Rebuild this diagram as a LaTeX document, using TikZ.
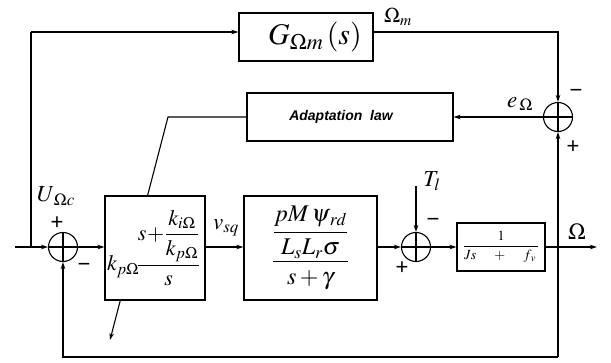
\documentclass[tikz,border=0pt]{standalone}
\usepackage{amsmath}
\usepackage{mathptmx}
\usepackage{fontspec}
\setmainfont{Liberation Serif}
\newfontfamily\lawfont{Liberation Sans}
\usetikzlibrary{arrows.meta}

\begin{document}
\begin{tikzpicture}[x=1pt,y=-1pt,line width=1.1pt,
  >={Stealth[length=7pt,width=4.5pt]},
  font=\fontsize{23}{25}\selectfont,
  block/.style={draw,fill=white,inner sep=0pt},
  lbl/.style={inner sep=0pt},
  sumnode/.style={draw,circle,minimum size=29pt,inner sep=0pt,
    path picture={\draw[line width=1.1pt] (path picture bounding box.north) -- (path picture bounding box.south)
      (path picture bounding box.west) -- (path picture bounding box.east);}},
  sign/.style={inner sep=0pt,font=\lawfont\fontsize{22}{22}\selectfont}]
\useasboundingbox (0,0) rectangle (611,362);

% Reference model and adaptation law
\node[block,minimum width=134pt,minimum height=48pt,font=\fontsize{30}{32}\selectfont] (gref) at (306,37)
  {\hspace*{18pt}$G_{\Omega m}\,(s)$};
\node[block,minimum width=206pt,minimum height=48pt,font=\lawfont\bfseries\itshape\fontsize{14}{16}\selectfont] (adapt) at (350,117)
  {Adaptation\ \ law\hspace*{18pt}};

% Summing junctions
\node[sumnode] (sumr) at (558,117) {};
\node[sumnode] (suml) at (63,247) {};
\node[sumnode] (summ) at (416,247) {};

% Free ends
\coordinate (in) at (15,247);
\coordinate (tl) at (31,32);
\coordinate (out) at (597,247);
\coordinate (tload) at (416,186);
\coordinate (bot) at (558,357);
\coordinate (adjtop) at (168,117);
\coordinate (adjend) at (110,340);

% Adjustment arrow (drawn under the PI block)
\draw[->] (adapt.west) -- (adjtop) -- (adjend);

% Forward path blocks
\node[block,minimum width=100pt,minimum height=104pt,font=\fontsize{22}{24}\selectfont] (pi) at (155,248)
  {$\!k_{p\Omega}\!\dfrac{s\!+\!\dfrac{k_{i\Omega}}{k_{p\Omega}}}{s}$};
\node[block,minimum width=133pt,minimum height=104pt,font=\fontsize{24}{26}\selectfont] (plant) at (310.5,248)
  {$\dfrac{\dfrac{pM\,\psi_{\,rd}}{L_s L_r\sigma}}{s+\gamma}$};
\node[block,minimum width=88pt,minimum height=48pt,font=\fontsize{14}{15}\selectfont] (mech) at (501,247)
  {$\dfrac{1}{\makebox[74pt]{$Js$\hfill$+$\hfill$f_{\,v}$\hspace*{2pt}}}$};

% Connectors
\draw[->] (in) -- (suml);
\draw (tl |- suml) -- (tl);
\draw[->] (tl) -- (tl -| gref.west);
\draw[->] (gref.east |- tl) -- (tl -| sumr) -- (sumr);
\draw[->] (sumr) -- (adapt);
\draw[->] (suml) -- (pi.west |- suml);
\draw[->] (pi.east |- suml) -- (plant.west |- suml);
\draw[->] (plant.east |- summ) -- (summ);
\draw[->] (summ) -- (mech);
\draw[->] (mech) -- (out);
\draw[->] (tload) -- (summ);
\draw[->] (bot) -- (sumr);
\draw[->] (bot) -- (bot -| suml) -- (suml);

% Labels
\node[lbl,font=\fontsize{21}{23}\selectfont] (lomm) at (398,17) {$\Omega_m$};
\node[lbl] (leo) at (520,104) {$e_{\,\Omega}$};
\node[lbl] (luc) at (56,196) {$U_{\,\Omega c}$};
\node[lbl] (lvsq) at (226,228) {$v_{sq}$};
\node[lbl] (ltl) at (432,181) {$T_l$};
\node[lbl] (lom) at (577,232) {$\Omega$};

% Signs
\node[sign] (sr1) at (576,93) {−};
\node[sign] (sr2) at (573,147) {+};
\node[sign] (sl1) at (57,223) {+};
\node[sign] (sl2) at (84,267) {−};
\node[sign] (sm1) at (433,222) {−};
\node[sign] (sm2) at (402,268) {+};
\end{tikzpicture}
\end{document}
